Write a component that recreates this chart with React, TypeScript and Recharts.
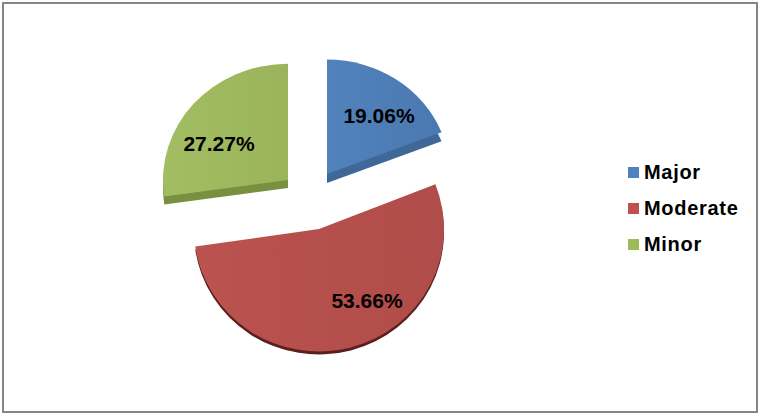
import { Legend, Pie, PieChart, Sector } from "recharts";

const categories = ["Major", "Moderate", "Minor"];
const shares = [19.06, 53.66, 27.27];

const faceStops = [
  ["#5282bc", "#4a79b1"],
  ["#bb5350", "#b04c49"],
  ["#a2bd62", "#9bb45b"]
];
const sideColors = ["#3f6797", "#5a1f1e", "#78903f"];
const legendColors = ["#4f81bd", "#c0504d", "#9bbb59"];

// where each exploded wedge sits: apex, radius, tilt, extrusion and label offset from the apex
const wedges = [
  { cx: 327, cy: 174, r: 123, tilt: 0.93, depth: 9, labelDx: 52, labelDy: -59 },
  { cx: 319, cy: 229, r: 125, tilt: 0.98, depth: 3, labelDx: 48, labelDy: 71 },
  { cx: 288, cy: 180, r: 125, tilt: 0.93, depth: 8, labelDx: -69, labelDy: -37 }
];

const total = shares.reduce((sum, share) => sum + share, 0);

function buildSlices() {
  let angle = 90;
  return shares.map((share, index) => {
    const startAngle = angle;
    angle -= (share / total) * 360;
    return {
      startAngle,
      endAngle: angle,
      data: [{ name: categories[index], value: share }]
    };
  });
}

// squashes a sector about its apex so the wedge looks tilted, as in a 3D pie
function tiltedSector(tilt: number) {
  return (props: any) => (
    <g transform={`translate(0 ${props.cy}) scale(1 ${tilt}) translate(0 ${-props.cy})`}>
      <Sector {...props} />
    </g>
  );
}

function SliceLabel(props: any, index: number) {
  const { cx, cy, value } = props;
  const wedge = wedges[index];
  return (
    <text
      x={cx + wedge.labelDx}
      y={cy + wedge.labelDy}
      textAnchor="middle"
      dominantBaseline="central"
      fill="#000000"
      fontSize={21}
      fontWeight={700}
      fontFamily="'Liberation Sans', Arial, sans-serif"
    >
      {value.toFixed(2)}%
    </text>
  );
}

function LegendList() {
  return (
    <div style={{ fontFamily: "'Liberation Sans', Arial, sans-serif" }}>
      {categories.map((category, index) => (
        <div
          key={category}
          style={{ display: "flex", alignItems: "center", height: 36 }}
        >
          <span
            style={{
              width: 11,
              height: 11,
              marginRight: 5,
              backgroundColor: legendColors[index]
            }}
          />
          <span
            style={{
              fontSize: 20,
              fontWeight: 700,
              letterSpacing: 0.7,
              color: "#000000"
            }}
          >
            {category}
          </span>
        </div>
      ))}
    </div>
  );
}

export default function App() {
  const slices = buildSlices();

  return (
    <div style={{ position: "fixed", left: 0, top: 0, width: 760, height: 415, background: "#ffffff" }}>
      <div
        style={{
          position: "absolute",
          left: 2,
          top: 2,
          width: 752,
          height: 407,
          border: "2px solid #868686"
        }}
      />
      <PieChart width={760} height={415} margin={{ top: 0, right: 0, bottom: 0, left: 0 }}>
        <defs>
          {faceStops.map(([from, to], index) => (
            <linearGradient key={categories[index]} id={`face-${index}`} x1="0" y1="0" x2="1" y2="0">
              <stop offset="0%" stopColor={from} />
              <stop offset="100%" stopColor={to} />
            </linearGradient>
          ))}
        </defs>

        {slices.map((slice, index) => (
          <Pie
            key={`side-${categories[index]}`}
            data={slice.data}
            dataKey="value"
            nameKey="name"
            cx={wedges[index].cx}
            cy={wedges[index].cy + wedges[index].depth}
            outerRadius={wedges[index].r}
            startAngle={slice.startAngle}
            endAngle={slice.endAngle}
            fill={sideColors[index]}
            stroke="none"
            legendType="none"
            shape={tiltedSector(wedges[index].tilt)}
            isAnimationActive={false}
          />
        ))}

        {slices.map((slice, index) => (
          <Pie
            key={`face-${categories[index]}`}
            data={slice.data}
            dataKey="value"
            nameKey="name"
            cx={wedges[index].cx}
            cy={wedges[index].cy}
            outerRadius={wedges[index].r}
            startAngle={slice.startAngle}
            endAngle={slice.endAngle}
            fill={`url(#face-${index})`}
            stroke="none"
            shape={tiltedSector(wedges[index].tilt)}
            label={(props: any) => SliceLabel(props, index)}
            labelLine={false}
            isAnimationActive={false}
          />
        ))}

        <Legend
          layout="vertical"
          align="right"
          verticalAlign="top"
          content={() => <LegendList />}
          wrapperStyle={{ left: 628, top: 154, width: 125 }}
        />
      </PieChart>
    </div>
  );
}
